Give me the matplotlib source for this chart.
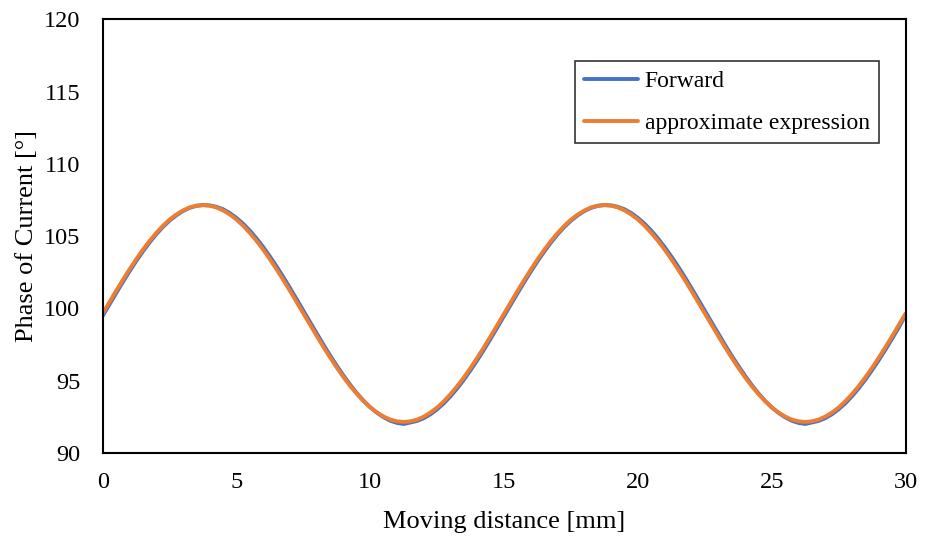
import numpy as np
import matplotlib
matplotlib.use('Agg')
import matplotlib.pyplot as plt

# moving distance [mm], every 0.25 mm
distance = np.arange(0, 30.01, 0.25)

# phase of current [deg]
forward = [99.49, 100.27, 101.05, 101.82, 102.56, 103.27, 103.94, 104.56, 105.13, 105.64,
           106.08, 106.44, 106.74, 106.96, 107.10, 107.15, 107.13, 107.03, 106.86, 106.60,
           106.26, 105.86, 105.38, 104.84, 104.24, 103.59, 102.90, 102.17, 101.41, 100.63,
           99.84, 99.05, 98.27, 97.49, 96.74, 96.03, 95.35, 94.71, 94.13, 93.61,
           93.16, 92.78, 92.47, 92.23, 92.08, 92.01, 92.11, 92.22, 92.41, 92.68,
           93.03, 93.44, 93.93, 94.48, 95.08, 95.74, 96.43, 97.16, 97.92, 98.70,
           99.49, 100.27, 101.05, 101.82, 102.56, 103.27, 103.94, 104.56, 105.13, 105.64,
           106.08, 106.44, 106.74, 106.96, 107.10, 107.15, 107.13, 107.03, 106.86, 106.60,
           106.26, 105.86, 105.38, 104.84, 104.24, 103.59, 102.90, 102.17, 101.41, 100.63,
           99.84, 99.05, 98.27, 97.49, 96.74, 96.03, 95.35, 94.71, 94.13, 93.61,
           93.16, 92.78, 92.47, 92.23, 92.08, 92.01, 92.11, 92.22, 92.41, 92.68,
           93.03, 93.44, 93.93, 94.48, 95.08, 95.74, 96.43, 97.16, 97.92, 98.70,
           99.55]
approx = [99.65, 100.43, 101.21, 101.97, 102.70, 103.40, 104.06, 104.67, 105.22, 105.72,
          106.15, 106.50, 106.78, 106.99, 107.11, 107.15, 107.11, 106.99, 106.78, 106.50,
          106.15, 105.72, 105.22, 104.67, 104.06, 103.40, 102.70, 101.97, 101.21, 100.43,
          99.65, 98.87, 98.09, 97.33, 96.60, 95.90, 95.24, 94.63, 94.08, 93.58,
          93.15, 92.80, 92.52, 92.31, 92.19, 92.15, 92.19, 92.31, 92.52, 92.80,
          93.15, 93.58, 94.08, 94.63, 95.24, 95.90, 96.60, 97.33, 98.09, 98.87,
          99.65, 100.43, 101.21, 101.97, 102.70, 103.40, 104.06, 104.67, 105.22, 105.72,
          106.15, 106.50, 106.78, 106.99, 107.11, 107.15, 107.11, 106.99, 106.78, 106.50,
          106.15, 105.72, 105.22, 104.67, 104.06, 103.40, 102.70, 101.97, 101.21, 100.43,
          99.65, 98.87, 98.09, 97.33, 96.60, 95.90, 95.24, 94.63, 94.08, 93.58,
          93.15, 92.80, 92.52, 92.31, 92.19, 92.15, 92.19, 92.31, 92.52, 92.80,
          93.15, 93.58, 94.08, 94.63, 95.24, 95.90, 96.60, 97.33, 98.09, 98.87,
          99.65]

x_ticks = [0, 5, 10, 15, 20, 25, 30]
y_ticks = [90, 95, 100, 105, 110, 115, 120]

plt.rcParams['font.family'] = ['Liberation Serif', 'DejaVu Serif']

fig = plt.figure(figsize=(9.25, 5.38), dpi=100)
ax = fig.add_axes([0.111, 0.158, 0.868, 0.806])

ax.plot(distance, forward, color='#4472C4', lw=2.8, label='Forward',
        solid_capstyle='round', solid_joinstyle='round')
ax.plot(distance, approx, color='#ED7D31', lw=2.8, label='approximate expression',
        solid_capstyle='round', solid_joinstyle='round')

ax.set_xlim(0, 30)
ax.set_ylim(90, 120)
ax.set_xticks(x_ticks)
ax.set_yticks(y_ticks)
ax.tick_params(length=0, labelsize=17.5)
ax.tick_params(axis='x', pad=14)
ax.tick_params(axis='y', pad=16)
for s in ax.spines.values():
    s.set_linewidth(1.5)
    s.set_color('black')

ax.set_xlabel('Moving distance [mm]', fontsize=19, labelpad=13)
ax.set_ylabel('Phase of Current [°]', fontsize=19, labelpad=4.5)

leg = ax.legend(loc='upper right', bbox_to_anchor=(0.967, 0.903), fontsize=17,
                frameon=True, fancybox=False, edgecolor='black', handlelength=2.25,
                borderpad=0.4, labelspacing=0.85, handletextpad=0.3, borderaxespad=0)
leg.get_frame().set_linewidth(1.2)

fig.savefig('out.png', dpi=100)
